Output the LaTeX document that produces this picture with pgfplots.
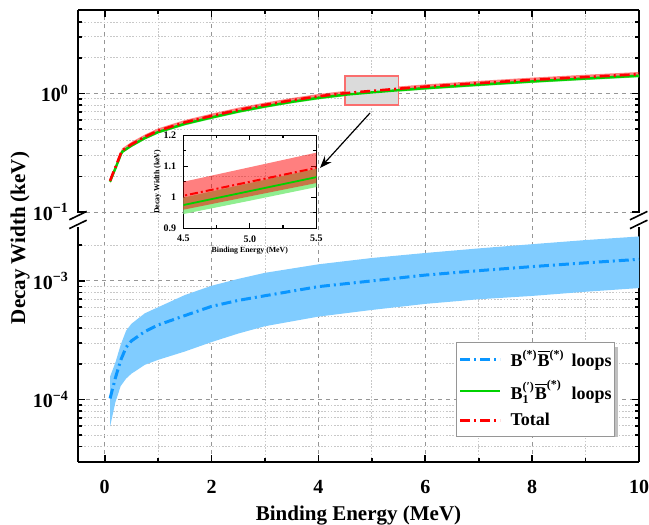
\documentclass[border=0pt]{standalone}
\usepackage{fontspec}
\setmainfont{Liberation Serif}
\usepackage{amsmath}
\usepackage{pgfplots}
\usepackage{pgfplotstable}
\pgfplotsset{compat=1.18}
\usepgfplotslibrary{fillbetween}
\usetikzlibrary{arrows.meta}

\definecolor{bandblue}{RGB}{128,204,255}
\definecolor{lineblue}{RGB}{10,150,255}
\definecolor{linegreen}{RGB}{0,210,0}
\definecolor{bandgreen}{RGB}{144,238,144}
\definecolor{rectred}{RGB}{250,110,110}
\definecolor{majgrid}{RGB}{150,150,150}
\definecolor{mingrid}{RGB}{200,200,200}
\definecolor{shadowgray}{RGB}{192,192,192}

\pgfplotstableread{
x T Tlo Thi G Glo Ghi
0.1 0.183 0.175 0.191 0.180 0.175 0.185
0.15 0.210 0.201 0.219 0.206 0.200 0.211
0.2 0.238 0.227 0.249 0.233 0.226 0.239
0.25 0.272 0.260 0.284 0.266 0.258 0.273
0.3 0.311 0.297 0.325 0.304 0.295 0.312
0.33 0.330 0.315 0.345 0.323 0.313 0.331
0.5 0.372 0.355 0.389 0.363 0.352 0.372
0.75 0.430 0.411 0.449 0.420 0.407 0.431
1 0.485 0.463 0.507 0.472 0.458 0.484
1.5 0.570 0.544 0.596 0.554 0.537 0.568
2 0.646 0.617 0.675 0.627 0.608 0.643
2.5 0.725 0.692 0.758 0.704 0.683 0.722
3 0.800 0.764 0.836 0.777 0.754 0.796
3.5 0.875 0.836 0.914 0.849 0.824 0.870
4 0.945 0.902 0.988 0.917 0.889 0.940
4.5 1.005 0.960 1.050 0.975 0.946 0.999
5 1.050 1.003 1.097 1.020 0.989 1.046
5.5 1.095 1.046 1.144 1.065 1.033 1.092
6 1.140 1.089 1.191 1.107 1.074 1.135
7 1.220 1.165 1.275 1.185 1.149 1.215
8 1.300 1.242 1.359 1.262 1.224 1.294
9 1.375 1.313 1.437 1.335 1.295 1.368
10 1.450 1.385 1.515 1.408 1.366 1.443
}\tabTop

\pgfplotstableread{
x c lo hi
0.1 1.02e-4 5.9e-5 1.56e-4
0.2 1.52e-4 9.5e-5 2.05e-4
0.3 2.15e-4 1.3e-4 2.9e-4
0.4 2.75e-4 1.5e-4 3.8e-4
0.5 3.12e-4 1.65e-4 4.35e-4
0.75 3.74e-4 1.96e-4 5.33e-4
1.0 4.25e-4 2.16e-4 6.0e-4
1.5 5.1e-4 2.54e-4 7.6e-4
2.0 6.1e-4 3.05e-4 9.1e-4
2.5 6.85e-4 3.6e-4 1.04e-3
3.0 7.5e-4 4.15e-4 1.17e-3
4.0 8.95e-4 5.0e-4 1.38e-3
5.0 1.00e-3 5.69e-4 1.56e-3
6.0 1.12e-3 6.4e-4 1.72e-3
7.0 1.22e-3 7.0e-4 1.88e-3
8.0 1.32e-3 7.47e-4 2.04e-3
9.0 1.42e-3 8.1e-4 2.21e-3
10.0 1.52e-3 8.7e-4 2.37e-3
}\tabBlue

\begin{document}
\begin{tikzpicture}

% ---------- lower panel ----------
\begin{axis}[
  scale only axis, width=280.5pt, xmin=-0.5, xmax=10,
  ymode=log,
  axis line style={line width=1pt},
  tick align=inside,
  major tick length=3.5pt, minor tick length=2pt,
  tick style={black, line width=0.8pt},
  grid=both,
  major grid style={majgrid, dash pattern=on 2pt off 2pt, line width=0.5pt},
  minor grid style={mingrid, dash pattern=on 0.8pt off 0.8pt, line width=0.4pt},
  xtick={0,2,4,6,8,10}, minor xtick={1,3,5,7,9},
  ticklabel style={font=\fontsize{10}{12}\selectfont\bfseries},
  yticklabel style={xshift=-1pt},
  xticklabel style={yshift=-6pt},
  at={(39pt,-230.75pt)}, anchor=south west,
  height=124.75pt,
  ymin=3e-5, ymax=3.81e-3,
  axis x line*=bottom, axis y line*=box,
  xticklabels={0,2,4,6,8,10},
  ytick={1e-4,1e-3},
  yticklabels={10\textsuperscript{−4},10\textsuperscript{−3}},
  minor ytick={4e-5,5e-5,6e-5,7e-5,8e-5,9e-5,2e-4,3e-4,4e-4,5e-4,6e-4,7e-4,8e-4,9e-4,2e-3},
  legend style={at={(0.6738,0.480)}, anchor=north west,
    draw=majgrid, line width=0.6pt, fill=white,
    font=\fontsize{9}{10.5}\selectfont\bfseries,
    inner xsep=1pt, inner ysep=2.2pt, row sep=1.8pt, column sep=4pt,
    nodes={inner xsep=0.5pt, inner ysep=1.8pt}},
  legend cell align=left,
  legend image code/.code={\draw[#1] (0pt,0pt) -- (20pt,0pt);},
]
\addplot[name path=bhi, draw=none, forget plot] table[x=x,y=hi]{\tabBlue};
\addplot[name path=blo, draw=none, forget plot] table[x=x,y=lo]{\tabBlue};
\addplot[bandblue, forget plot] fill between[of=bhi and blo];
\fill[shadowgray] (axis description cs:0.6868,0.097) rectangle (axis description cs:0.9620,0.459);
\addplot[lineblue, line width=1.5pt, dash pattern=on 5pt off 2pt on 1pt off 2pt] table[x=x,y=c]{\tabBlue};
\addlegendentry{\makebox[30.5pt][l]{B\textsuperscript{(*)}$\overline{\text{B}}$\textsuperscript{(*)}}loops}
\addlegendimage{linegreen, line width=1.2pt}
\addlegendentry{\makebox[30.5pt][l]{$\text{B}_{\text{1}}^{\text{(′)}}\overline{\text{B}}^{\text{(*)}}$}loops}
\addlegendimage{red, line width=1.3pt, dash pattern=on 5pt off 2pt on 1pt off 2pt}
\addlegendentry{Total}
\end{axis}

% ---------- upper panel ----------
\begin{axis}[
  scale only axis, width=280.5pt, xmin=-0.5, xmax=10,
  ymode=log,
  axis line style={line width=1pt},
  tick align=inside,
  major tick length=3.5pt, minor tick length=2pt,
  tick style={black, line width=0.8pt},
  grid=both,
  major grid style={majgrid, dash pattern=on 2pt off 2pt, line width=0.5pt},
  minor grid style={mingrid, dash pattern=on 0.8pt off 0.8pt, line width=0.4pt},
  xtick={0,2,4,6,8,10}, minor xtick={1,3,5,7,9},
  ticklabel style={font=\fontsize{10}{12}\selectfont\bfseries},
  yticklabel style={xshift=-1pt},
  at={(39pt,-106pt)}, anchor=south west,
  height=101pt,
  ymin=0.1, ymax=5.05,
  axis x line*=top, axis y line*=box,
  xticklabels={},
  ytick={0.1,1},
  yticklabels={10\textsuperscript{−1},10\textsuperscript{0}},
  minor ytick={0.2,0.3,0.4,0.5,0.6,0.7,0.8,0.9,2,3,4,5},
]
\draw[rectred, fill=gray!28, line width=0.7pt] (axis cs:4.5,0.8) rectangle (axis cs:5.5,1.4);
\addplot[name path=ghi, draw=none] table[x=x,y=Ghi]{\tabTop};
\addplot[name path=glo, draw=none] table[x=x,y=Glo]{\tabTop};
\addplot[bandgreen] fill between[of=ghi and glo];
\addplot[linegreen, line width=1.2pt] table[x=x,y=G]{\tabTop};
\addplot[name path=thi, draw=none] table[x=x,y=Thi]{\tabTop};
\addplot[name path=tlo, draw=none] table[x=x,y=Tlo]{\tabTop};
\addplot[red, fill opacity=0.5] fill between[of=thi and tlo];
\addplot[red, line width=1.3pt, dash pattern=on 5pt off 2pt on 1pt off 2pt] table[x=x,y=T]{\tabTop};
\end{axis}

% ---------- inset ----------
\begin{axis}[
  at={(91.65pt,-114.15pt)}, anchor=south west,
  scale only axis, width=66.5pt, height=46.5pt,
  xmin=4.5, xmax=5.5, ymin=0.9, ymax=1.2,
  axis background/.style={fill=white},
  axis line style={line width=0.8pt},
  tick align=inside, major tick length=2.5pt, minor tick length=1.5pt,
  tick style={black, line width=0.6pt},
  xtick={4.5,5,5.5}, xticklabels={4.5,5.0,5.5},
  minor xtick={4.75,5.25},
  ytick={0.9,1,1.1,1.2}, yticklabels={0.9,1,1.1,1.2},
  minor ytick={0.95,1.05,1.15},
  ticklabel style={font=\fontsize{5}{6}\selectfont\bfseries},
  xticklabel style={yshift=0pt},
  xlabel={Binding Energy (MeV)}, ylabel={Decay Width (keV)},
  label style={font=\fontsize{3.9}{4.5}\selectfont\bfseries},
  xlabel style={yshift=4.5pt}, ylabel style={yshift=-5.5pt},
]
\addplot[name path=ighi, draw=none] table[x=x,y=Ghi]{\tabTop};
\addplot[name path=iglo, draw=none] table[x=x,y=Glo]{\tabTop};
\addplot[bandgreen] fill between[of=ighi and iglo];
\addplot[linegreen, line width=0.9pt] table[x=x,y=G]{\tabTop};
\addplot[name path=ithi, draw=none] table[x=x,y=Thi]{\tabTop};
\addplot[name path=itlo, draw=none] table[x=x,y=Tlo]{\tabTop};
\addplot[red, fill opacity=0.5] fill between[of=ithi and itlo];
\addplot[red, line width=1pt, dash pattern=on 4pt off 1.5pt on 1pt off 1.5pt] table[x=x,y=T]{\tabTop};
\end{axis}

% ---------- arrow ----------
\draw[line width=0.6pt, -{Stealth[length=6pt,width=4.5pt]}] (185pt,-56.5pt) -- (160pt,-84pt);

% ---------- axis break marks ----------
\foreach \xx in {39pt,319.35pt}{
  \draw[white, line width=2pt] (\xx,-106.6pt) -- (\xx,-113.6pt);
  \draw[black, line width=0.8pt] ([xshift=-4.35pt,yshift=-2.1pt]\xx,-107.8pt) -- ([xshift=4.35pt,yshift=2.1pt]\xx,-107.8pt);
  \draw[black, line width=0.8pt] ([xshift=-4.35pt,yshift=-2.1pt]\xx,-112.2pt) -- ([xshift=4.35pt,yshift=2.1pt]\xx,-112.2pt);
}

% ---------- axis titles ----------
\node[rotate=90, font=\fontsize{10.5}{12}\selectfont\bfseries] at (10pt,-119pt) {Decay Width (keV)};
\node[font=\fontsize{10.5}{12}\selectfont\bfseries] at (179.25pt,-258pt) {Binding Energy (MeV)};

\pgfresetboundingbox
\path[use as bounding box] (0pt,0pt) rectangle (324.5pt,-262.5pt);
\end{tikzpicture}
\end{document}
